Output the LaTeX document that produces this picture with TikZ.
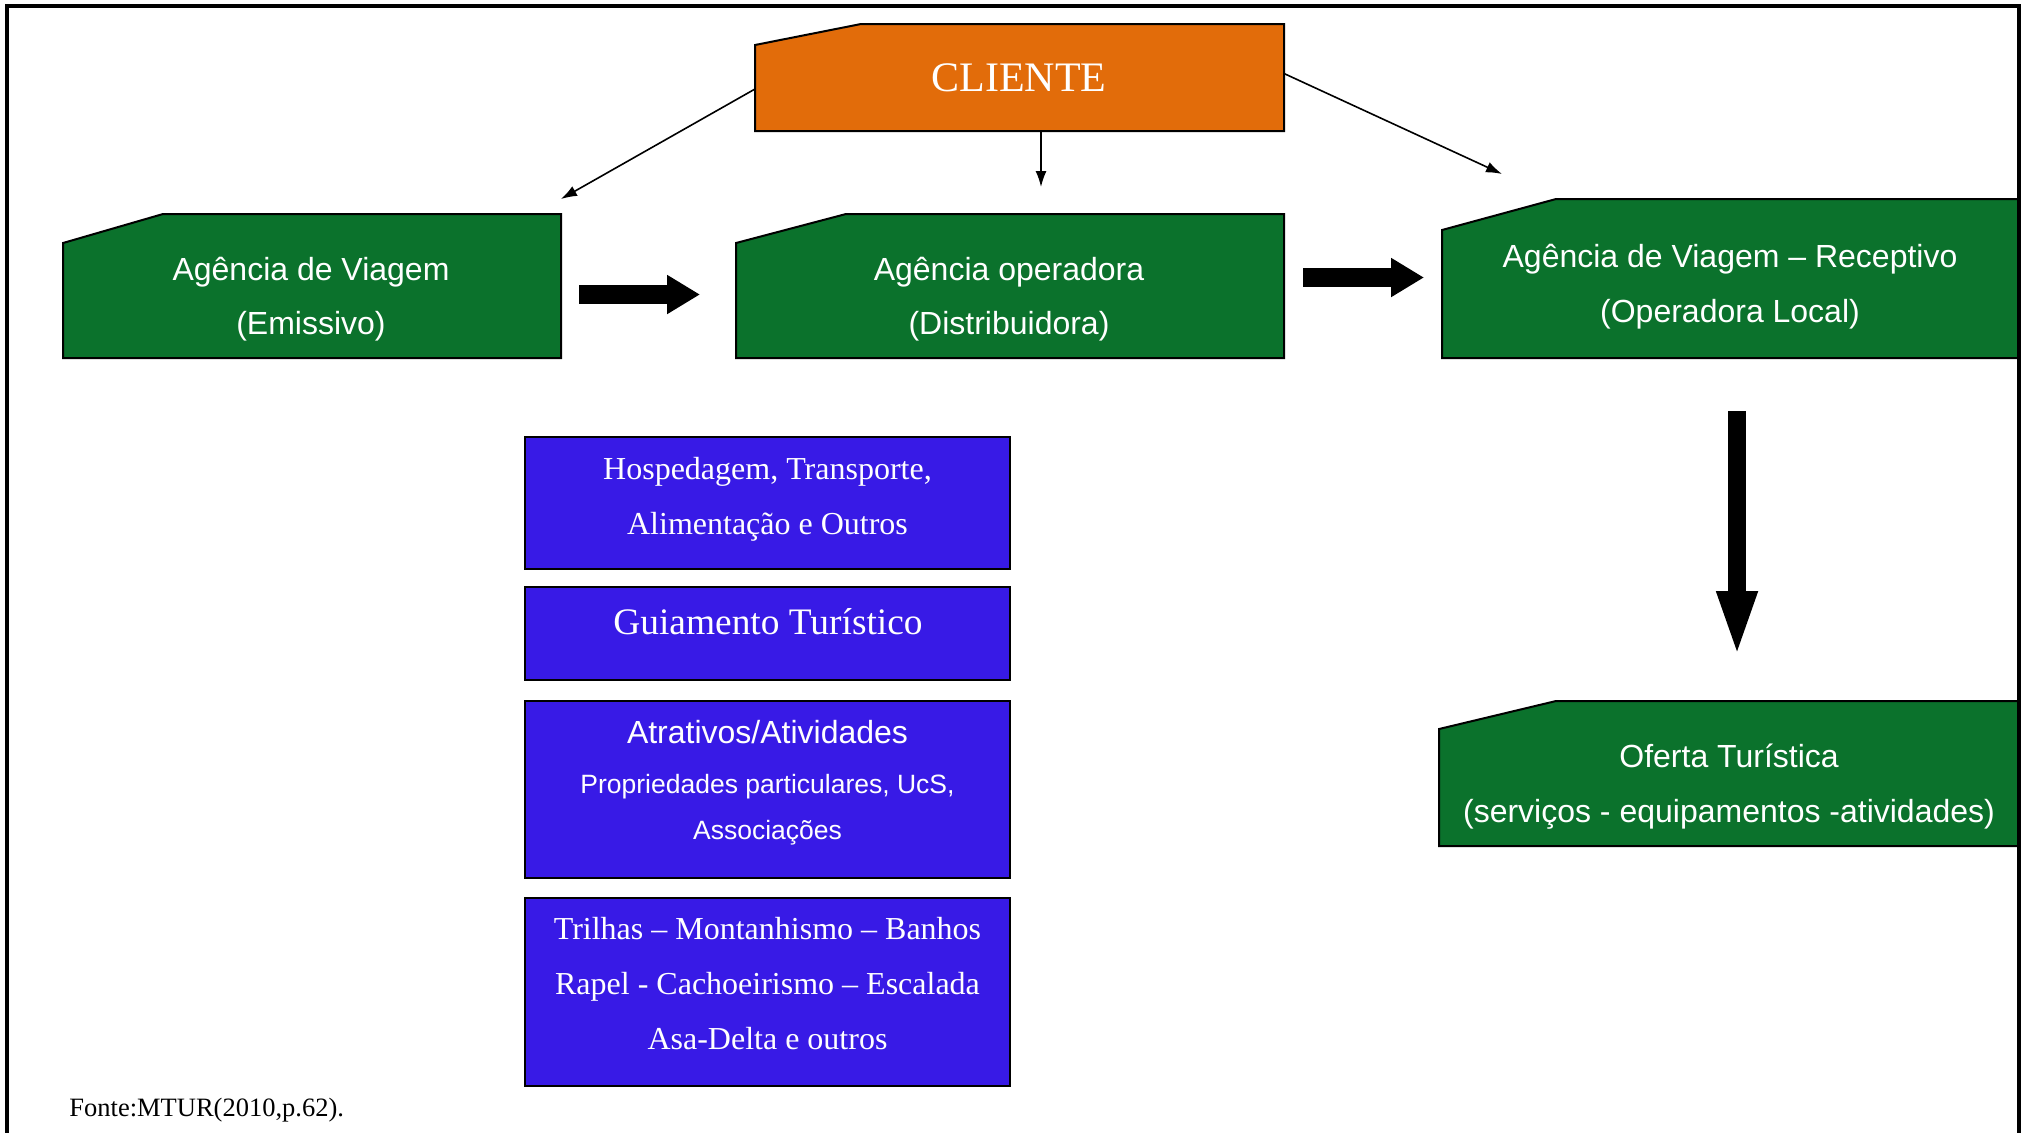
\documentclass[tikz,border=0pt]{standalone}
\usepackage{fontspec}
\setmainfont{Liberation Serif}
\newfontfamily\arialf{Liberation Sans}
\usetikzlibrary{arrows.meta,calc}
\definecolor{clorange}{RGB}{226,108,10}
\definecolor{agreen}{RGB}{11,114,44}
\definecolor{sblue}{RGB}{56,26,230}
\newcommand\chambox[4]{\filldraw[fill=#4, draw=black, line width=1pt]
  ($(#1.north west)+(0,#3)$) -- ($(#1.north west)+(#2,0)$) -- (#1.north east)
  -- (#1.south east) -- (#1.south west) -- cycle;}
\begin{document}
\begin{tikzpicture}[x=0.5pt,y=-0.5pt,
  frameline/.style={line width=1.6pt},
  region/.style={rectangle, inner sep=0pt, outer sep=0pt},
  bluebox/.style={region, draw=black, line width=1pt, fill=sblue},
  gtext/.style={anchor=base, text=white, font=\arialf\fontsize{16}{19}\selectfont, inner sep=0pt},
  stext/.style={anchor=base, text=white, font=\fontsize{16}{19}\selectfont, inner sep=0pt},
  thinarrow/.style={line width=0.8pt, -{Latex[length=8pt,width=5.5pt]}},
  bigarrow/.style={draw=black, line width=9.5pt, -{Triangle[length=16.5pt,width=18.5pt]}},
]
\clip (0,0) rectangle (2027,1132);
\fill[white] (0,0) rectangle (2027,1132);
\draw[frameline] (7,1140) -- (7,6) -- (2019,6) -- (2019,1140);

% shape regions
\node[region, minimum width=264.5pt, minimum height=53.5pt] (cl) at (1019.5,77.5) {};
\node[region, minimum width=249pt, minimum height=72pt] (ag1) at (312,286) {};
\node[region, minimum width=274pt, minimum height=72pt] (ag2) at (1010,286) {};
\node[region, minimum width=288pt, minimum height=79.5pt] (ag3) at (1730,278.5) {};
\node[region, minimum width=289.5pt, minimum height=72.5pt] (of) at (1728.5,773.5) {};

\chambox{cl}{106}{21}{clorange}
\chambox{ag1}{100}{29}{agreen}
\chambox{ag2}{110}{29}{agreen}
\chambox{ag3}{114}{31}{agreen}
\chambox{of}{117}{28}{agreen}

% texts in top boxes
\node[anchor=base, text=white, inner sep=0pt, font=\fontsize{21}{25}\selectfont] (tcl) at (1019,91.5) {CLIENTE};
\node[gtext] (t1a) at (311,280) {Agência de Viagem};
\node[gtext] (t1b) at (311,334) {(Emissivo)};
\node[gtext] (t2a) at (1009,280) {Agência operadora};
\node[gtext] (t2b) at (1009,334) {(Distribuidora)};
\node[gtext] (t3a) at (1730,267) {Agência de Viagem – Receptivo};
\node[gtext] (t3b) at (1730,322) {(Operadora Local)};
\node[gtext] (t4a) at (1729,767) {Oferta Turística};
\node[gtext] (t4b) at (1729,822) {(serviços - equipamentos -atividades)};

% blue boxes
\node[bluebox, minimum width=242.5pt, minimum height=66pt] (b1) at (767.5,503) {};
\node[bluebox, minimum width=242.5pt, minimum height=46.5pt] (b2) at (767.5,633.5) {};
\node[bluebox, minimum width=242.5pt, minimum height=88.5pt] (b3) at (767.5,789.5) {};
\node[bluebox, minimum width=242.5pt, minimum height=94pt] (b4) at (767.5,992) {};

\node[stext] (s1a) at (767.5,479) {Hospedagem, Transporte,};
\node[stext] (s1b) at (767.5,534) {Alimentação e Outros};
\node[stext, font=\fontsize{18.7}{22}\selectfont] (s2) at (768,634.6) {Guiamento Turístico};
\node[gtext] (s3a) at (767.5,743) {Atrativos/Atividades};
\node[gtext, font=\arialf\fontsize{13.25}{16}\selectfont] (s3b) at (767.5,793) {Propriedades particulares, UcS,};
\node[gtext, font=\arialf\fontsize{13.25}{16}\selectfont] (s3c) at (767.5,839) {Associações};
\node[stext] (s4a) at (767.5,939.5) {Trilhas – Montanhismo – Banhos};
\node[stext] (s4b) at (767.5,994.5) {Rapel - Cachoeirismo – Escalada};
\node[stext] (s4c) at (767.5,1049.5) {Asa-Delta e outros};

\node[anchor=base west, inner sep=0pt, font=\fontsize{13.25}{16}\selectfont] (src) at (69,1116) {Fonte:MTUR(2010,p.62).};

% thin arrows from CLIENTE
\coordinate (e1) at (561,199);
\coordinate (e2) at (1041,187);
\coordinate (e3) at (1502,174);
\draw[thinarrow] ($(cl.west)+(0,11.5)$) -- (e1);
\draw[thinarrow] (cl.south -| e2) -- (e2);
\draw[thinarrow] ($(cl.east)+(0,-4)$) -- (e3);

% block arrows
\coordinate (a1s) at (579,294.5);
\coordinate (a1e) at (700,294.5);
\coordinate (a2s) at (1303,277.5);
\coordinate (a2e) at (1424,277.5);
\coordinate (a3s) at (1737,411);
\coordinate (a3e) at (1737,659);
\draw[bigarrow] (a1s) -- (a1e);
\draw[bigarrow] (a2s) -- (a2e);
\draw[bigarrow, line width=9pt, -{Triangle[length=34pt,width=18pt]}] (a3s) -- (a3e);
\end{tikzpicture}
\end{document}
